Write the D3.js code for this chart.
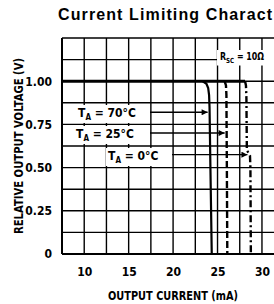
<!DOCTYPE html>
<html><head><meta charset="utf-8">
<script src="https://cdn.jsdelivr.net/npm/d3@7"></script>
<style>
html,body{margin:0;padding:0;background:#fff;overflow:hidden;}
svg{display:block;}
.nar{font-family:"Liberation Sans Narrow","DejaVu Sans Condensed","Arial Narrow",sans-serif;font-weight:bold;}
</style></head>
<body>
<script>
// ---- data ----
const title = "Current Limiting Charact";
const xLabel = "OUTPUT CURRENT (mA)";
const yLabel = "RELATIVE OUTPUT VOLTAGE (V)";
const xTicks = [10, 15, 20, 25, 30];
const yTicks = [0, 0.25, 0.5, 0.75, 1.0];
const yTickLabels = ["0", "0.25", "0.50", "0.75", "1.00"];
const xGrid = [7.5, 10, 12.5, 15, 17.5, 20, 22.5, 25, 27.5, 30, 32.5, 35];
const yGrid = [0, 0.125, 0.25, 0.375, 0.5, 0.625, 0.75, 0.875, 1.0, 1.125, 1.25];
// shared flat part at 1.00 V
const flatPart = [[7.5, 1.0], [28.1, 1.0]];
// T_A = 70°C (solid)
const curve70 = [[23.3, 1.0], [23.75, 0.985], [23.95, 0.96], [24.05, 0.92], [24.1, 0.85], [24.2, 0.5], [24.35, 0]];
// T_A = 25°C (dashed)
const curve25 = [[25.8, 1.0], [25.95, 0.975], [26.0, 0.92], [26.05, 0.5], [26.1, 0]];
// T_A = 0°C (dash-dot)
const curve0 = [[28.1, 1.0], [28.2, 0.975], [28.25, 0.9], [28.3, 0.6], [28.65, 0.57], [28.7, 0.5], [28.75, 0]];
const tempNames = ["70°C", "25°C", "0°C"];
const rscText = ["R", "SC", " = 10Ω"];

// ---- layout ----
const W = 274, H = 304;
const svg = d3.select("body").append("svg").attr("width", W).attr("height", H);
const x = d3.scaleLinear().domain([7.5, 35]).range([62, 306.4]);
const y = d3.scaleLinear().domain([0, 1.25]).range([254, 38]);

// title
svg.append("text").attr("x", 58).attr("y", 20)
  .style("font-family", "'Liberation Sans',Arial,sans-serif").style("font-weight", "bold")
  .style("font-size", "16px").attr("textLength", 214).attr("lengthAdjust", "spacing")
  .text(title);

// grid
const g = svg.append("g");
g.selectAll("line.v").data(xGrid).join("line").attr("class", "v")
  .attr("x1", d => x(d)).attr("x2", d => x(d)).attr("y1", y(1.25)).attr("y2", y(0))
  .attr("stroke", "#000").attr("stroke-width", d => d === 7.5 ? 2 : 1.4);
g.selectAll("line.h").data(yGrid).join("line").attr("class", "h")
  .attr("x1", x(7.5)).attr("x2", W).attr("y1", d => y(d)).attr("y2", d => y(d))
  .attr("stroke", "#000").attr("stroke-width", d => (d === 0 ? 2.2 : (d === 1.25 ? 1.6 : 1.4)));

// axes (labels)
const ya = svg.append("g").attr("class", "nar").attr("transform", `translate(${x(7.5)},0)`)
  .call(d3.axisLeft(y).tickValues(yTicks).tickFormat((d, i) => yTickLabels[i]).tickSize(0).tickPadding(10));
ya.select(".domain").remove();
ya.selectAll("text").style("font-size", "12px").style("font-family", null).attr("fill", "#000");
const xa = svg.append("g").attr("class", "nar").attr("transform", `translate(0,${y(0)})`)
  .call(d3.axisBottom(x).tickValues(xTicks).tickFormat(d3.format("d")).tickSize(0).tickPadding(13));
xa.select(".domain").remove();
xa.selectAll("text").style("font-size", "12px").style("font-family", null).attr("fill", "#000");

// axis titles
svg.append("text").attr("class", "nar").attr("x", 173).attr("y", 300).attr("text-anchor", "middle")
  .style("font-size", "13px").attr("textLength", 130).attr("lengthAdjust", "spacingAndGlyphs").text(xLabel);
svg.append("text").attr("class", "nar").attr("transform", "translate(22.5,146) rotate(-90)")
  .attr("text-anchor", "middle").style("font-size", "12px")
  .attr("textLength", 176).attr("lengthAdjust", "spacingAndGlyphs").text(yLabel);

// curves
const line = d3.line().x(d => x(d[0])).y(d => y(d[1])).curve(d3.curveLinear);
svg.append("path").datum(flatPart).attr("d", line).attr("fill", "none").attr("stroke", "#000").attr("stroke-width", 3);
svg.append("path").datum(curve70).attr("d", line).attr("fill", "none").attr("stroke", "#000").attr("stroke-width", 2.2);
svg.append("path").datum(curve25).attr("d", line).attr("fill", "none").attr("stroke", "#000").attr("stroke-width", 2.4)
  .attr("stroke-dasharray", "7,3");
svg.append("path").datum(curve0).attr("d", line).attr("fill", "none").attr("stroke", "#000").attr("stroke-width", 2.4)
  .attr("stroke-dasharray", "7,3,2,3");

// temperature labels with arrows
const defs = svg.append("defs");
defs.append("marker").attr("id", "ah").attr("viewBox", "0 0 10 10").attr("refX", 10).attr("refY", 5)
  .attr("markerWidth", 9).attr("markerHeight", 6).attr("markerUnits", "userSpaceOnUse").attr("orient", "auto")
  .append("path").attr("d", "M0,0L10,5L0,10Z").attr("fill", "#000");

const annot = [
  {name: tempNames[0], lx: 78, ly: 117, ax0: 150, curve: curve70, v: 0.82},
  {name: tempNames[1], lx: 76, ly: 138, ax0: 150, curve: curve25, v: 0.70},
  {name: tempNames[2], lx: 108, ly: 160, ax0: 172, curve: curve0, v: 0.575},
];
annot.forEach(a => {
  const t = svg.append("text").attr("class", "nar").attr("x", a.lx).attr("y", a.ly).style("font-size", "12px");
  t.append("tspan").text("T");
  t.append("tspan").attr("dy", 3).style("font-size", "8px").text("A");
  t.append("tspan").attr("dy", -3).text(" = " + a.name);
  const bb = t.node().getBBox();
  svg.insert("rect", function(){ return t.node(); })
    .attr("x", bb.x - 2).attr("y", bb.y - 1).attr("width", bb.width + 4).attr("height", bb.height + 2).attr("fill", "#fff");
  const c = a.curve;
  let cx = c[c.length - 1][0];
  for (let i = 0; i < c.length - 1; i++) {
    if (c[i][1] >= a.v && c[i + 1][1] <= a.v) {
      const f = (c[i][1] - a.v) / (c[i][1] - c[i + 1][1]);
      cx = c[i][0] + f * (c[i + 1][0] - c[i][0]);
      break;
    }
  }
  const ay = y(a.v);
  svg.append("line").attr("x1", a.ax0).attr("y1", ay).attr("x2", x(cx) - 2).attr("y2", ay)
    .attr("stroke", "#000").attr("stroke-width", 1.4).attr("marker-end", "url(#ah)");
});

// R_SC label
const rt = svg.append("text").attr("class", "nar").attr("x", 220).attr("y", 60).style("font-size", "10px")
  .attr("textLength", 44).attr("lengthAdjust", "spacingAndGlyphs");
rt.append("tspan").text(rscText[0]);
rt.append("tspan").attr("dy", 2.5).style("font-size", "7px").text(rscText[1]);
rt.append("tspan").attr("dy", -2.5).text(rscText[2]);
const rb = rt.node().getBBox();
svg.insert("rect", function(){ return rt.node(); })
  .attr("x", 217).attr("y", rb.y - 1).attr("width", W - 217).attr("height", rb.height + 2).attr("fill", "#fff");
</script>
</body></html>
